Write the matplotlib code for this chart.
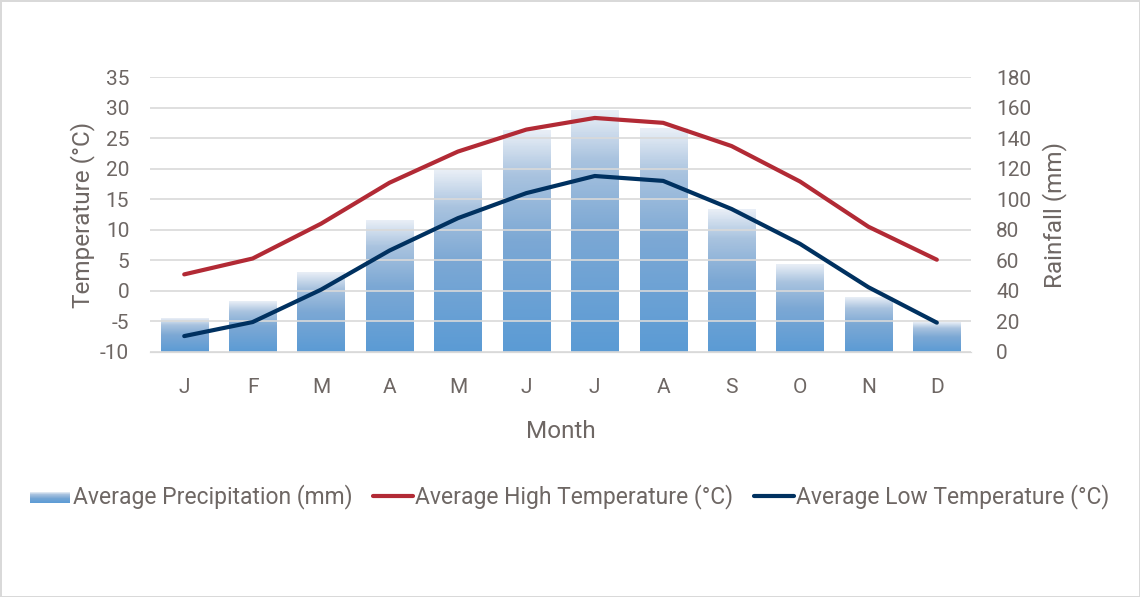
import numpy as np
import matplotlib.pyplot as plt
from matplotlib.patches import Rectangle
from matplotlib.legend_handler import HandlerBase
from matplotlib.colors import LinearSegmentedColormap

plt.rcParams['font.family'] = ['Roboto', 'DejaVu Sans']
plt.rcParams['axes.unicode_minus'] = False

months = ['J', 'F', 'M', 'A', 'M', 'J', 'J', 'A', 'S', 'O', 'N', 'D']
rain = [22, 33, 52, 86, 119, 145, 158, 146, 93, 57, 36, 19]
high_temp = [2.7, 5.3, 11.0, 17.7, 22.8, 26.4, 28.3, 27.5, 23.7, 17.9, 10.5, 5.1]
low_temp = [-7.4, -5.1, 0.2, 6.6, 11.9, 16.0, 18.8, 18.0, 13.4, 7.7, 0.6, -5.2]

txt = '#6e6764'
red = '#b22a35'
navy = '#003160'
grad = LinearSegmentedColormap.from_list(
    'g', [(0, '#5b9bd5'), (0.5, '#7ca8d4'), (0.8, '#a9c3df'), (1, '#e8eef6')])

fig = plt.figure(figsize=(11.4, 5.97), dpi=100)
fig.patch.set_edgecolor('#d9d9d9')
fig.patch.set_linewidth(2)
ax = fig.add_axes([0.1316, 0.4104, 0.7202, 0.4606])
ax2 = ax.twinx()
ax.set_zorder(2)
ax.patch.set_visible(False)

x = np.arange(len(months))
w = 0.69
g = np.linspace(0, 1, 100).reshape(-1, 1)
for xi, r in zip(x, rain):
    ax2.imshow(g, cmap=grad, aspect='auto', origin='lower',
               extent=[xi - w / 2, xi + w / 2, 0, r], zorder=1)

ax2.set_ylim(0, 180)
ax2.set_yticks(range(0, 181, 20))
ax.set_xlim(-0.5, 11.5)
ax2.set_xlim(-0.5, 11.5)

ax.plot(x, high_temp, color=red, lw=3, solid_capstyle='round', zorder=3)
ax.plot(x, low_temp, color=navy, lw=3, solid_capstyle='round', zorder=3)
ax.set_ylim(-10, 35)
ax.set_yticks(range(-10, 36, 5))
ax.grid(axis='y', color='#d9d9d9', lw=1.2)
ax.set_axisbelow(False)
ax.set_xticks(x)
ax.set_xticklabels(months)

for a in (ax, ax2):
    for s in ['top', 'left', 'right']:
        a.spines[s].set_visible(False)
    a.spines['bottom'].set_color('#d9d9d9')
    a.tick_params(length=0, labelsize=15, labelcolor=txt)
ax.tick_params(axis='y', pad=15)
ax.tick_params(axis='x', pad=19)
ax2.tick_params(axis='y', pad=18)

ax.set_xlabel('Month', fontsize=17.5, color=txt, labelpad=16)
ax.set_ylabel('Temperature (°C)', fontsize=17.5, color=txt, labelpad=4)
ax2.set_ylabel('Rainfall (mm)', fontsize=17.5, color=txt, labelpad=8)


class GradHandler(HandlerBase):
    def create_artists(self, legend, orig, xd, yd, width, height, fontsize, trans):
        arts = []
        n = 12
        hh = height * 0.7
        y0 = yd + (height - hh) / 2 - height * 0.1
        for i in range(n):
            c = grad((i + 0.5) / n)
            arts.append(Rectangle((xd, y0 + hh * i / n), width, hh / n,
                                  facecolor=c, edgecolor='none', transform=trans))
        return arts


proxy = Rectangle((0, 0), 1, 1)
handles = [proxy, ax.lines[0], ax.lines[1]]
labels = ['Average Precipitation (mm)', 'Average High Temperature (°C)',
          'Average Low Temperature (°C)']
leg = fig.legend(handles, labels, loc='center', bbox_to_anchor=(0.5, 1 - 497 / 597),
                 ncol=3, frameon=False, fontsize=16.5, handlelength=1.75,
                 handletextpad=0.1, columnspacing=0.9,
                 handler_map={Rectangle: GradHandler()})
for t in leg.get_texts():
    t.set_color(txt)

fig.savefig('out.png', dpi=100)
